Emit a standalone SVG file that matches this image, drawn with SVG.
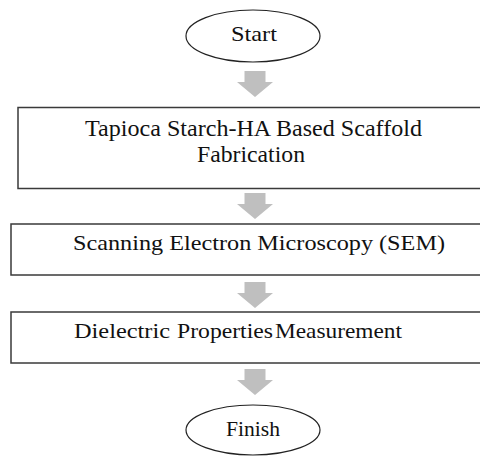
<svg xmlns="http://www.w3.org/2000/svg" width="480" height="459" viewBox="0 0 480 459">
<style>
.box{fill:#fff;stroke:#3a3a3a;stroke-width:1.5}
.ell{fill:#fff;stroke:#222;stroke-width:1.2}
.t{font-family:"Liberation Serif","Times New Roman",serif;font-size:21px;fill:#111}
.big{font-size:22.5px}
.arr{fill:#bfbfbf}
</style>
<defs>
<path id="arrow" d="M-10.5,0 H10.5 V11 H18 L0,26 L-18,11 H-10.5 Z"/>
</defs>
<rect width="480" height="459" fill="#fff"/>
<g id="connectors">
<use href="#arrow" class="arr" x="255" y="71"/>
<use href="#arrow" class="arr" x="255" y="193"/>
<use href="#arrow" class="arr" x="255" y="282"/>
<use href="#arrow" class="arr" x="255" y="369"/>
</g>
<g id="start">
<ellipse class="ell" cx="253" cy="36" rx="67" ry="26"/>
<text class="t" x="231" y="41" textLength="46" lengthAdjust="spacingAndGlyphs">Start</text>
</g>
<g id="fabrication">
<rect class="box" x="18" y="107.5" width="470" height="81"/>
<text class="t big" x="85" y="135.5" textLength="337" lengthAdjust="spacingAndGlyphs">Tapioca Starch-HA Based Scaffold</text>
<text class="t big" x="197" y="162" textLength="108" lengthAdjust="spacingAndGlyphs">Fabrication</text>
</g>
<g id="sem">
<rect class="box" x="11" y="224" width="477" height="51"/>
<text class="t" x="73" y="250" textLength="372" lengthAdjust="spacingAndGlyphs">Scanning Electron Microscopy (SEM)</text>
</g>
<g id="dielectric">
<rect class="box" x="11" y="312" width="477" height="51"/>
<text class="t" x="74" y="338" textLength="96" lengthAdjust="spacingAndGlyphs">Dielectric</text>
<text class="t" x="177" y="338" textLength="96" lengthAdjust="spacingAndGlyphs">Properties</text>
<text class="t" x="275" y="338" textLength="127" lengthAdjust="spacingAndGlyphs">Measurement</text>
</g>
<g id="finish">
<ellipse class="ell" cx="253" cy="430" rx="67" ry="25"/>
<text class="t" x="226" y="436" textLength="54" lengthAdjust="spacingAndGlyphs">Finish</text>
</g>
</svg>
